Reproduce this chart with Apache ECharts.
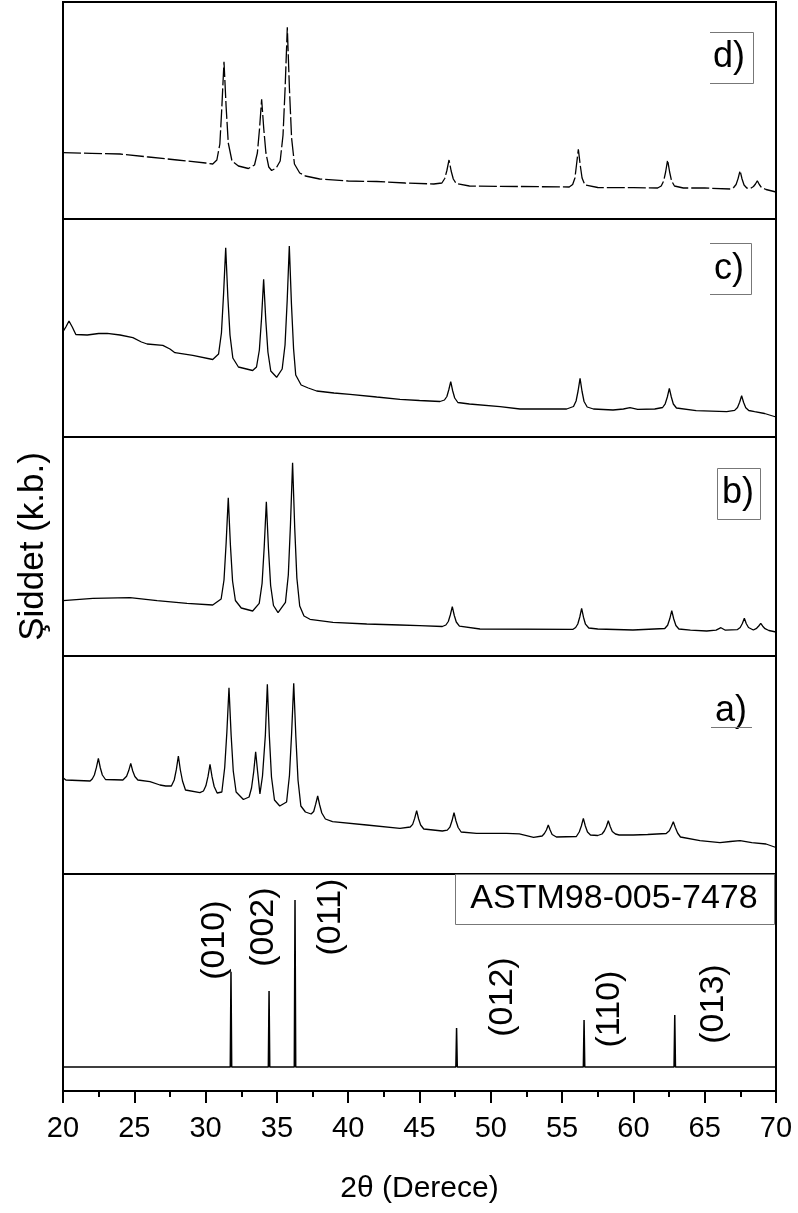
<!DOCTYPE html>
<html>
<head>
<meta charset="utf-8">
<script src="https://cdn.jsdelivr.net/npm/echarts@6/dist/echarts.min.js"></script>
<style>
html,body{margin:0;padding:0;background:#fff;}
#chart{width:798px;height:1213px;}
</style>
</head>
<body>
<div id="chart"></div>
<script>
// ---- Data (2θ in degrees, intensity in arbitrary units) ----
const xTicks = [20, 25, 30, 35, 40, 45, 50, 55, 60, 65, 70];

const sampleD = [[20,66.3],[22,65.7],[24,65],[26,62],[28,59],[30,56],[30.5,55],[30.79,59],[31.0,75],[31.14,112],[31.29,157.3],[31.44,112],[31.59,76],[31.85,58],[32.3,53],[33,50.5],[33.43,54],[33.63,66],[33.78,90],[33.93,119.7],[34.08,90],[34.23,66],[34.43,52],[34.63,48.5],[34.95,51],[35.23,58],[35.43,84],[35.58,132],[35.73,191.7],[35.88,130],[36.03,81],[36.23,55],[36.6,46],[37,43],[38,40],[40,38],[42,37.5],[44,36],[46,35],[46.57,36],[46.77,40.5],[46.92,48.5],[47.07,59],[47.22,48],[47.37,40],[47.57,35.5],[48.5,33],[52,32.5],[55.5,32],[55.74,34.5],[55.9,41],[56.0,53],[56.14,69.7],[56.28,53],[56.4,41],[56.6,34],[57.5,31.5],[60,31.3],[61.7,31],[61.95,33],[62.12,38],[62.26,47],[62.4,59],[62.54,47],[62.68,38],[62.88,33],[63.5,31],[65,31],[66.8,30],[67.03,31.5],[67.2,34.5],[67.34,40.4],[67.48,48.3],[67.62,40],[67.76,34],[67.95,31],[68.2,30.5],[68.42,32.5],[68.56,35],[68.69,38.3],[68.83,34.5],[68.98,31.5],[69.3,29.5],[70,27]];

const sampleC = [[20,105.3],[20.2,110],[20.42,116],[20.65,110],[20.9,102.5],[21.7,102],[22.5,103.5],[23.1,103.7],[24,102],[24.9,99.3],[25.5,95],[25.9,93],[27,91.7],[27.5,88],[27.85,84.3],[29.1,81.7],[30.5,77.5],[30.91,83],[31.11,104],[31.26,143],[31.41,189.3],[31.56,140],[31.71,102],[31.91,79],[32.3,70],[33.3,66.5],[33.57,70],[33.77,87],[33.92,118],[34.07,157.7],[34.22,117],[34.37,85],[34.57,66],[34.98,59.7],[35.37,68],[35.57,92],[35.72,136],[35.87,191],[36.02,133],[36.17,88],[36.32,62],[36.7,52],[37.2,49],[37.79,46],[39,44],[40.13,42.7],[42,40],[43.63,37.7],[45,36.5],[46.44,35.5],[46.75,37],[46.92,40.5],[47.05,47],[47.19,55.3],[47.33,46],[47.47,39],[47.69,34.5],[48.5,33],[50.65,30.3],[52.05,28],[55.32,28],[55.8,30.5],[55.98,36],[56.12,46],[56.26,58.7],[56.4,45.5],[56.54,35.5],[56.76,30],[57.2,28],[58.57,27],[59.3,28],[59.76,29.3],[60.3,27.7],[61.5,28],[62.05,29.5],[62.23,33.2],[62.38,40],[62.52,48.7],[62.66,40],[62.8,33],[63.02,29],[64.4,26.3],[66.54,25.3],[67.1,26.6],[67.3,29.5],[67.45,34.7],[67.59,41.3],[67.73,34.5],[67.88,29.3],[68.09,26.5],[68.5,25.3],[69.2,23.5],[70,20]];

const sampleB = [[20,55.3],[22.1,57.7],[24.7,58.3],[26.6,55.3],[28.7,52.7],[30.5,51],[31.09,57],[31.29,76],[31.44,113],[31.59,158.3],[31.74,111],[31.89,75],[32.09,55.5],[32.5,48],[33.3,45],[33.76,52.7],[33.96,72.5],[34.11,109],[34.26,154.3],[34.41,107],[34.56,70.5],[34.76,50.5],[35.08,43.3],[35.6,53.6],[35.8,81],[35.95,131],[36.1,193.3],[36.25,128],[36.4,78],[36.6,50],[36.9,40],[37.32,36.7],[38.93,33.7],[41.3,32],[43.63,31],[45,30.3],[46.6,29.5],[46.85,31],[47.02,34.5],[47.16,41],[47.3,49.3],[47.44,40.5],[47.58,34],[47.8,29.8],[49.24,27],[55.77,26.7],[55.95,28.5],[56.1,32],[56.24,39],[56.37,47.7],[56.5,38.8],[56.64,31.8],[56.87,28],[57.5,27],[59.97,26],[62.2,27.5],[62.4,30.8],[62.55,37.2],[62.69,45.3],[62.83,37],[62.98,30.5],[63.19,27],[64,25.8],[65.14,25],[65.8,25.8],[66.14,28.3],[66.45,25.8],[67.3,26.4],[67.49,28.5],[67.64,32.5],[67.78,37.7],[67.92,32.3],[68.07,28.5],[68.41,26],[68.64,27.7],[68.79,30],[68.93,32.7],[69.07,29.8],[69.23,27.3],[69.5,25.5],[70,24]];

const sampleA = [[20,96.3],[20.2,94],[21.9,93],[22.05,95],[22.2,99],[22.34,106.3],[22.48,115.7],[22.62,106],[22.76,99],[22.98,94.5],[24.2,94],[24.32,95],[24.46,97.8],[24.61,103.4],[24.75,110.7],[24.89,103],[25.04,97.5],[25.25,94],[26.1,92.3],[26.8,89],[27.2,88],[27.6,88],[27.8,94],[27.95,104.6],[28.09,118],[28.23,104],[28.38,93],[28.59,84],[29.6,81.3],[29.85,83],[30.02,88.2],[30.17,97.6],[30.31,109.7],[30.45,97.3],[30.6,87.5],[30.81,81],[31.14,82],[31.34,106.5],[31.49,141.5],[31.64,186.3],[31.79,139],[31.94,103],[32.14,82],[32.65,74.5],[33.05,77],[33.22,86],[33.37,101.8],[33.51,122.3],[33.65,102],[33.81,80],[33.99,98],[34.19,138.6],[34.33,189.7],[34.47,138],[34.62,97],[34.83,74],[35.2,68],[35.68,72],[35.88,98.5],[36.03,140],[36.18,190.7],[36.33,137],[36.48,94],[36.68,68],[37.0,62],[37.4,60],[37.58,62.5],[37.72,69.8],[37.86,78],[38.0,69],[38.15,61],[38.4,55],[38.9,52.3],[41.3,49],[43.63,45.7],[44.35,47],[44.52,49.6],[44.66,55.6],[44.8,63.3],[44.94,55],[45.08,49],[45.3,45],[46.6,43],[46.95,43.8],[47.13,46.8],[47.28,53.2],[47.42,61.3],[47.56,53],[47.71,46.5],[47.92,42],[49,40.7],[51.1,40.7],[52,40.2],[53.0,36.7],[53.6,38],[53.76,40.5],[53.9,44],[54.03,49],[54.16,44],[54.3,39.5],[54.6,37],[56.0,37.5],[56.2,42],[56.35,48],[56.49,55.7],[56.63,48],[56.78,42],[56.99,39],[57.5,38.5],[57.8,40],[57.96,43],[58.1,47.3],[58.24,53.3],[58.38,47.3],[58.52,42.6],[58.74,40],[59,39],[59.99,39],[61,39.5],[62.3,40.5],[62.52,43.3],[62.66,47.5],[62.8,52.3],[62.94,46.5],[63.1,41],[63.3,37],[64.67,33.3],[66.07,31.3],[66.8,32.5],[67.48,33.3],[68.3,31.3],[69.3,30],[70,26.5]];

// Reference pattern ASTM 98-005-7478
const refPositions = [31.78, 34.45, 36.27, 47.6, 56.54, 62.9];
const refIntensities = [57, 45.5, 100, 23.4, 28.1, 31.1];
const refHkl = ['(010)', '(002)', '(011)', '(012)', '(110)', '(013)'];
const hklLabelX = [30.6, 34.1, 38.8, 50.8, 58.3, 65.6];
const hklLabelY = [76, 83.8, 89.8, 41.9, 34.7, 37.7];

const panelNames = ['d)', 'c)', 'b)', 'a)'];
const refName = 'ASTM98-005-7478';

// ---- Build chart ----
const FONT = "'Liberation Sans', Arial, sans-serif";
const chart = echarts.init(document.getElementById('chart'));

// stick pattern with a zero baseline
const sticks = [[20, 0]];
refPositions.forEach((p, i) => {
  sticks.push([p - 0.05, 0], [p, refIntensities[i]], [p + 0.05, 0]);
});
sticks.push([70, 0]);

const hklData = refHkl.map((t, i) => ({ value: [hklLabelX[i], hklLabelY[i]], name: t }));

const panels = [
  { top: 2, height: 217 },
  { top: 219, height: 218 },
  { top: 437, height: 219 },
  { top: 656, height: 218 },
  { top: 874, height: 217 }
];

const grids = panels.map(p => ({
  left: 63, right: 22, top: p.top, height: p.height,
  show: true, borderColor: '#000', borderWidth: 2, backgroundColor: 'transparent'
}));

const xAxes = panels.map((p, i) => {
  const last = i === panels.length - 1;
  return {
    type: 'value', gridIndex: i, min: xTicks[0], max: xTicks[xTicks.length - 1], interval: 5,
    position: 'bottom',
    splitLine: { show: false },
    axisLine: { show: last, onZero: false, lineStyle: { color: '#000', width: 2 } },
    axisTick: { show: last, inside: false, length: 12, lineStyle: { color: '#000', width: 2 } },
    minorTick: { show: last, splitNumber: 2, length: 6, lineStyle: { color: '#000', width: 2 } },
    axisLabel: { show: last, fontSize: 29, color: '#000', fontFamily: FONT, margin: 23 },
    name: last ? '2θ (Derece)' : '',
    nameLocation: 'middle', nameGap: 83,
    nameTextStyle: { fontSize: 30, color: '#000', fontFamily: FONT }
  };
});

const yMax = [217, 218, 219, 218, 115.6];
const yMin = [0, 0, 0, 0, -14.4];
const yAxes = panels.map((p, i) => ({
  type: 'value', gridIndex: i, min: yMin[i], max: yMax[i],
  axisLine: { show: false, onZero: false }, axisTick: { show: false }, axisLabel: { show: false },
  splitLine: { show: false },
  name: i === 2 ? 'Şiddet (k.b.)' : '',
  nameLocation: 'middle', nameGap: 12, nameRotate: 90,
  nameTextStyle: { fontSize: 35, color: '#000', fontFamily: FONT }
}));

const lineSeries = (data, idx, dashed) => ({
  type: 'line', xAxisIndex: idx, yAxisIndex: idx, data: data,
  showSymbol: false, symbol: 'none', smooth: false, animation: false,
  lineStyle: { color: '#000', width: 1.3, type: dashed ? [18, 3] : 'solid' }
});

const series = [
  lineSeries(sampleD, 0, true),
  lineSeries(sampleC, 1, false),
  lineSeries(sampleB, 2, false),
  lineSeries(sampleA, 3, false),
  {
    type: 'line', xAxisIndex: 4, yAxisIndex: 4, data: sticks,
    showSymbol: false, symbol: 'none', animation: false,
    lineStyle: { color: '#000', width: 1.5 }
  },
  {
    type: 'scatter', xAxisIndex: 4, yAxisIndex: 4, data: hklData,
    symbolSize: 1, itemStyle: { opacity: 0 }, animation: false, silent: true,
    label: {
      show: true, position: 'inside', rotate: 90, formatter: p => p.name,
      fontSize: 34, color: '#000', opacity: 1, textBorderWidth: 0, fontFamily: FONT
    },
    emphasis: { disabled: true }
  }
];

const boxColor = '#777';
const txt = (t, x, y, size) => ({
  type: 'text', z: 100,
  style: { text: t, x: x, y: y, font: size + 'px ' + FONT, fill: '#000',
    textAlign: 'center', textVerticalAlign: 'middle', align: 'center', verticalAlign: 'middle' }
});
const ln = (x1, y1, x2, y2) => ({
  type: 'line', z: 100, shape: { x1, y1, x2, y2 }, style: { stroke: boxColor, lineWidth: 1 }
});

const graphic = [
  txt(panelNames[0], 729, 57, 36), ln(710, 32.5, 753.5, 32.5), ln(753.5, 32.5, 753.5, 83.5), ln(710, 83.5, 753.5, 83.5),
  txt(panelNames[1], 729, 269, 36), ln(710, 243.5, 751.5, 243.5), ln(751.5, 243.5, 751.5, 294.5), ln(710, 294.5, 751.5, 294.5),
  txt(panelNames[2], 738, 493, 36),
  { type: 'rect', z: 100, shape: { x: 717.5, y: 468.5, width: 43, height: 51 }, style: { fill: 'none', stroke: boxColor, lineWidth: 1 } },
  txt(panelNames[3], 731, 711, 36), ln(711, 727.5, 752, 727.5),
  { type: 'rect', z: 99, shape: { x: 455.5, y: 874.5, width: 319, height: 50 }, style: { fill: '#fff', stroke: boxColor, lineWidth: 1 } },
  txt(refName, 614, 899, 34)
];

chart.setOption({
  animation: false,
  backgroundColor: '#fff',
  grid: grids, xAxis: xAxes, yAxis: yAxes, series: series, graphic: graphic
});
</script>
</body>
</html>
